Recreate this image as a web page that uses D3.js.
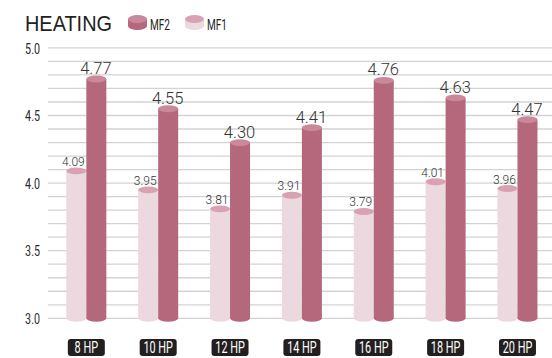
<!DOCTYPE html>
<html>
<head>
<meta charset="utf-8">
<script src="https://cdn.jsdelivr.net/npm/d3@7"></script>
<style>
  html, body { margin: 0; padding: 0; background: #fff; }
  svg { display: block; }
</style>
</head>
<body>
<svg id="chart" width="552" height="358"></svg>
<script>
// Heating capacity ratios per model size
const categories = ["8 HP", "10 HP", "12 HP", "14 HP", "16 HP", "18 HP", "20 HP"];
const mf1Values = [4.09, 3.95, 3.81, 3.91, 3.79, 4.01, 3.96];
const mf2Values = [4.77, 4.55, 4.30, 4.41, 4.76, 4.63, 4.47];
const tickLabels = ["3.0", "3.5", "4.0", "4.5", "5.0"];
const seriesNames = ["MF2", "MF1"];

const W = 552, H = 358;
const colors = {
  MF1: { body: "#ecd9df", cap: "#d9a2b3" },
  MF2: { body: "#b5687b", cap: "#ca899b" }
};
const narrowFont = "Roboto, 'DejaVu Sans', sans-serif";

const svg = d3.select("#chart");

// Narrow text: a regular face squeezed horizontally around its anchor point
function narrowText(parent, x, yPos, str, size, sx, anchor, fill) {
  return parent.append("text")
    .attr("transform", `translate(${x},${yPos}) scale(${sx},1)`)
    .attr("text-anchor", anchor)
    .attr("font-family", narrowFont)
    .attr("font-size", size)
    .attr("fill", fill)
    .text(str);
}

const y = d3.scaleLinear().domain([3, 5]).range([318.3, 47.9]);
const x = d3.scaleBand().domain(categories).range([50.4, 553.4]).padding(0);

// Gridlines every 0.1
const gridVals = d3.range(0, 21).map(i => 3 + i * 0.1);
svg.append("g").selectAll("line").data(gridVals).join("line")
  .attr("x1", 48).attr("x2", W)
  .attr("y1", d => y(d)).attr("y2", d => y(d))
  .attr("stroke", "#d3d3d3").attr("stroke-width", 1.3);

// Y axis labels (tick positions from the axis generator, text drawn narrow)
const yAxis = d3.axisLeft(y)
  .tickValues(tickLabels.map(Number))
  .tickFormat((d, i) => tickLabels[i])
  .tickSize(0).tickPadding(0);
const yg = svg.append("g").attr("transform", "translate(40,0)").call(yAxis);
yg.select(".domain").remove();
yg.selectAll(".tick text")
  .attr("x", null).attr("dy", null)
  .attr("y", 5.2)
  .attr("transform", "scale(0.74,1)")
  .attr("font-family", narrowFont)
  .attr("font-size", 14.5)
  .attr("fill", "#2a2a2a");

// Cylinder bars
const barW = 20, ry = 3.4;
function cylinder(g, cx, value, c) {
  const top = y(value), bottom = y(3);
  g.append("ellipse").attr("cx", cx).attr("cy", bottom).attr("rx", barW / 2).attr("ry", ry).attr("fill", c.body);
  g.append("rect").attr("x", cx - barW / 2).attr("y", top).attr("width", barW).attr("height", bottom - top).attr("fill", c.body);
  g.append("ellipse").attr("cx", cx).attr("cy", top).attr("rx", barW / 2).attr("ry", ry).attr("fill", c.cap);
}

const groups = svg.append("g").selectAll("g").data(categories).join("g");
groups.each(function (cat, i) {
  const g = d3.select(this);
  const cx = x(cat) + x.bandwidth() / 2;
  const c1 = cx - barW / 2, c2 = cx + barW / 2;
  cylinder(g, c1, mf1Values[i], colors.MF1);
  cylinder(g, c2, mf2Values[i], colors.MF2);

  g.append("text")
    .attr("x", c1 - 3).attr("y", y(mf1Values[i]) - 5)
    .attr("text-anchor", "middle")
    .attr("font-family", "Roboto, sans-serif").attr("font-weight", 300)
    .attr("font-size", 12).attr("fill", "#333")
    .text(mf1Values[i].toFixed(2));

  g.append("text")
    .attr("x", c2 - 0.5).attr("y", y(mf2Values[i]) - 5)
    .attr("text-anchor", "middle")
    .attr("font-family", "Roboto, sans-serif").attr("font-weight", 300)
    .attr("font-size", 16.5).attr("fill", "#333")
    .text(mf2Values[i].toFixed(2));

  // Category tag
  g.append("rect")
    .attr("x", cx - 18.5).attr("y", 339).attr("width", 37).attr("height", 17)
    .attr("rx", 3).attr("fill", "#231f20");
  narrowText(g, cx, 353.3, cat, 16, 0.68, "middle", "#fff");
});

// Title
svg.append("text")
  .attr("x", 25).attr("y", 30.5)
  .attr("font-family", "'Liberation Sans', Arial, sans-serif")
  .attr("font-size", 22.5).attr("fill", "#231f20")
  .attr("textLength", 87).attr("lengthAdjust", "spacingAndGlyphs")
  .text("HEATING");

// Legend
const legendItems = [
  { name: seriesNames[0], x: 128, c: colors.MF2 },
  { name: seriesNames[1], x: 185, c: colors.MF1 }
];
legendItems.forEach(item => {
  const g = svg.append("g");
  const w = 19, cx = item.x + w / 2;
  g.append("ellipse").attr("cx", cx).attr("cy", 26).attr("rx", w / 2).attr("ry", 4).attr("fill", item.c.body);
  g.append("rect").attr("x", item.x).attr("y", 19).attr("width", w).attr("height", 7).attr("fill", item.c.body);
  g.append("ellipse").attr("cx", cx).attr("cy", 19).attr("rx", w / 2).attr("ry", 4).attr("fill", item.c.cap);
  narrowText(g, item.x + w + 3, 30, item.name, 14, 0.72, "start", "#231f20");
});
</script>
</body>
</html>
